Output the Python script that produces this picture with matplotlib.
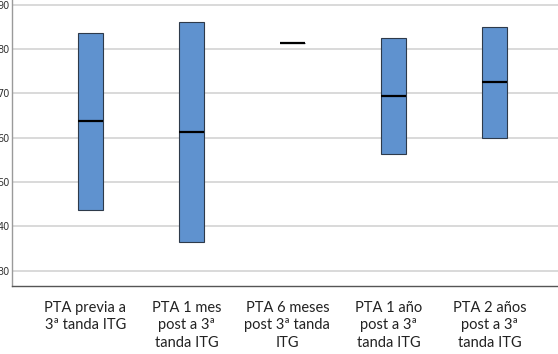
import matplotlib
matplotlib.use('Agg')
import matplotlib.pyplot as plt
from matplotlib.transforms import ScaledTranslation

categories = ['PTA previa a\n3ª tanda ITG',
              'PTA 1 mes\npost a 3ª\ntanda ITG',
              'PTA 6 meses\npost 3ª tanda\nITG',
              'PTA 1 año\npost a 3ª\ntanda ITG',
              'PTA 2 años\npost a 3ª\ntanda ITG']
q1 = [43.7, 36.4, 81.3, 56.3, 60.0]
median = [63.7, 61.2, 81.3, 69.3, 72.5]
q3 = [83.7, 86.2, 81.3, 82.5, 85.0]
y_ticks = [30, 40, 50, 60, 70, 80, 90]

stats = [dict(label=c, q1=a, med=m, q3=b, whislo=a, whishi=b, fliers=[])
         for c, a, m, b in zip(categories, q1, median, q3)]

fig = plt.figure(figsize=(5.58, 3.54), dpi=100)
ax = fig.add_axes([12 / 558, 68.3 / 354, 1 - 12 / 558, 1 - 68.3 / 354])

positions = list(range(len(categories)))
ax.bxp(stats, positions=positions, widths=0.25, patch_artist=True,
       showcaps=False,
       boxprops=dict(facecolor='#5f92cf', edgecolor='#2e3a4a', linewidth=0.8),
       medianprops=dict(color='black', linewidth=1.6),
       whiskerprops=dict(linewidth=0))

ax.set_xlim(-0.777, 4.63)
ax.set_ylim(26.6, 91.06)
ax.set_yticks(y_ticks)
ax.grid(axis='y', color='#d3d3d3', linewidth=1.2)
ax.set_axisbelow(True)

for s in ['top', 'right']:
    ax.spines[s].set_visible(False)
ax.spines['left'].set_color('#9a9a9a')
ax.spines['left'].set_linewidth(1.0)
ax.spines['bottom'].set_color('#555555')
ax.spines['bottom'].set_linewidth(1.0)

ax.tick_params(axis='y', length=0, pad=1.5, labelsize=7, labelcolor='#333333')
ax.tick_params(axis='x', length=0, pad=11)
ax.set_xticks(positions)
ax.set_xticklabels(categories, fontsize=10.5, family='Lato', linespacing=1.3,
                   color='#222222')
# labels sit a little left of the boxes in the original
shift = ScaledTranslation(-5 / 100, 0, fig.dpi_scale_trans)
for lbl in ax.get_xticklabels():
    lbl.set_transform(lbl.get_transform() + shift)

fig.savefig('out.png', dpi=100)
